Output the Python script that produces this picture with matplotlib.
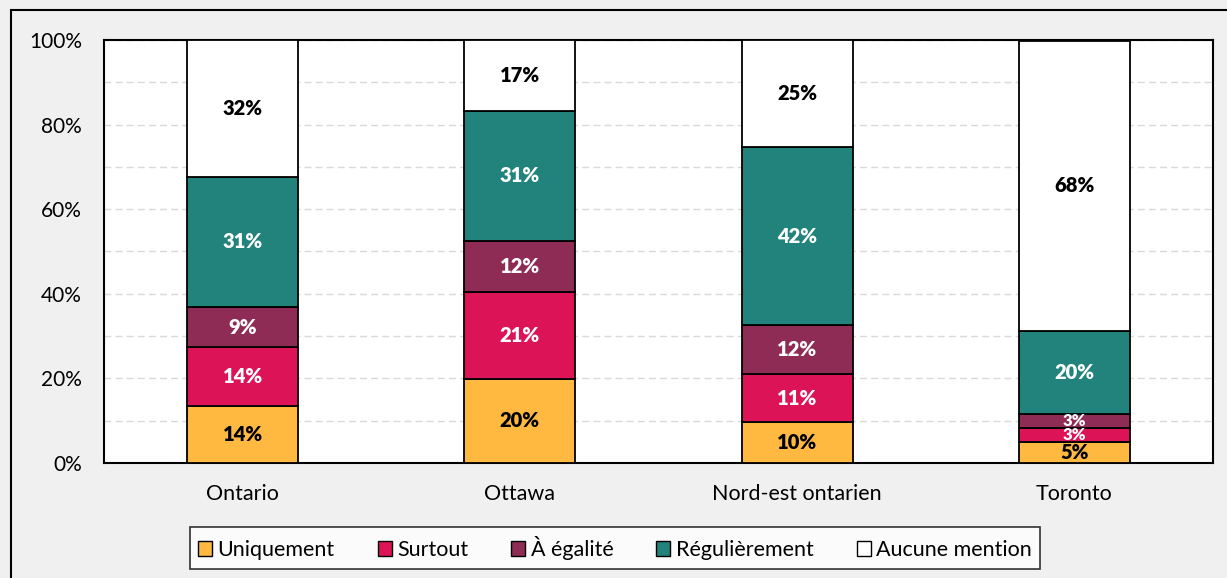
import matplotlib.pyplot as plt
from matplotlib.patches import Rectangle
import numpy as np

# ======================
# Data
# ======================

regions = ["Ontario", "Ottawa", "Nord-est ontarien", "Toronto"]
series = ["Uniquement", "Surtout", "À égalité", "Régulièrement", "Aucune mention"]

uniquement = [13.5, 19.9, 9.6, 5.0]
surtout = [13.9, 20.6, 11.4, 3.3]
egalite = [9.4, 12.0, 11.6, 3.4]
regulierement = [30.9, 30.7, 42.1, 19.6]
aucune = [32.3, 16.8, 25.3, 68.4]

colors = ["#FFB940", "#DC1457", "#8E2C55", "#21837B", "#FFFFFF"]
text_colors = ["black", "white", "white", "white", "black"]

plt.rcParams['font.family'] = ['Lato', 'DejaVu Sans']

# ======================
# Figure
# ======================

fig = plt.figure(figsize=(12.27, 5.78), dpi=100)
fig.patch.set_facecolor("#F0F0F0")
fig.patches.append(Rectangle((11 / 1227, -0.05), 1.1, 1.05 - 10 / 578,
                             transform=fig.transFigure, fill=False,
                             edgecolor="black", linewidth=1.5))

ax = fig.add_axes([104 / 1227, 1 - 463 / 578, 1109 / 1227, 423 / 578])
ax.set_facecolor("white")

x = np.arange(len(regions))
bottom = np.zeros(len(regions))
all_values = [uniquement, surtout, egalite, regulierement, aucune]

for vals, name, col, tcol in zip(all_values, series, colors, text_colors):
    vals = np.array(vals)
    ax.bar(x, vals, 0.4, bottom=bottom, color=col, edgecolor="black",
           linewidth=1.3, label=name, zorder=3)
    for xi, b, v in zip(x, bottom, vals):
        fs = 12 if v < 4 else 14.5
        ax.text(xi, b + v / 2, f"{round(v):.0f}%", ha="center", va="center",
                color=tcol, fontsize=fs, fontweight="heavy", zorder=4)
    bottom += vals

ax.set_xlim(-0.5, 3.5)
ax.set_ylim(0, 100)
ax.set_yticks(np.arange(0, 101, 20))
ax.set_yticklabels([f"{t}%" for t in range(0, 101, 20)], fontsize=15)
ax.set_yticks(np.arange(10, 100, 20), minor=True)
ax.set_xticks(x)
ax.set_xticklabels(regions, fontsize=15.5)
ax.tick_params(axis="y", length=0, pad=16)
ax.tick_params(axis="x", length=0, pad=15)
ax.tick_params(axis="y", which="minor", length=0)
ax.grid(axis="y", which="both", color="#D9D9D9", linestyle=(0, (5, 3)),
        linewidth=1, zorder=0)

for s in ax.spines.values():
    s.set_linewidth(1.5)
    s.set_color("black")

leg = fig.legend(loc="center", bbox_to_anchor=(615 / 1227, 1 - 548 / 578),
                 ncol=5, fontsize=15.5, frameon=True, fancybox=False,
                 edgecolor="black", handlelength=0.65, handleheight=0.65,
                 handletextpad=0.25, columnspacing=2.0, borderpad=0.4,
                 borderaxespad=0)
leg.get_frame().set_linewidth(1.2)
for h in leg.legend_handles:
    h.set_linewidth(1)

fig.savefig("out.png", dpi=100, facecolor=fig.get_facecolor())
